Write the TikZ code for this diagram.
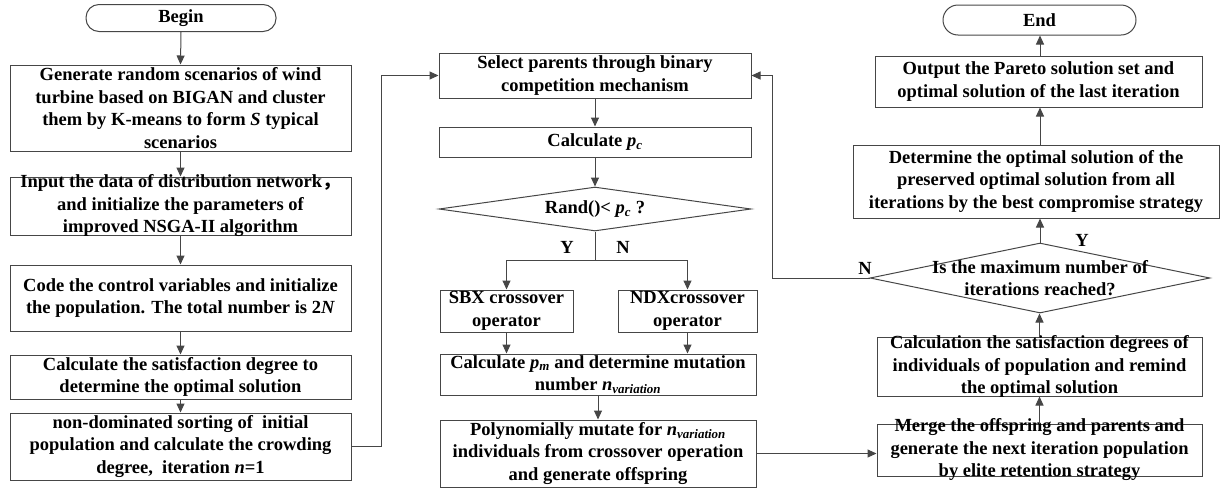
\documentclass[tikz,border=0pt]{standalone}
\usepackage{fontspec}
\setmainfont{Liberation Serif}
\newfontfamily\cjkf{Noto Sans CJK SC}
\usetikzlibrary{arrows.meta,shapes.geometric}
\definecolor{lc}{RGB}{70,70,70}
\begin{document}
\begin{tikzpicture}[x=1pt,y=-1pt,
  box/.style={draw=lc,line width=1pt,rectangle,inner sep=0pt},
  term/.style={box,rounded corners=13pt},
  dshape/.style={draw=lc,line width=1pt,diamond,inner sep=0pt},
  txt/.style={font=\fontsize{18.5}{22.5}\selectfont\bfseries,align=center,inner sep=0pt,text=black},
  arr/.style={draw=lc,line width=1pt,-{Triangle[length=9pt,width=8pt]}},
  ln/.style={draw=lc,line width=1pt}]
\useasboundingbox (0,0) rectangle (1220,488);
% left column
\node[term,minimum width=190pt,minimum height=27pt] (begin) at (181,18) {};
\node[txt] (tbegin) at (begin.center) {Begin};
\node[box,minimum width=341pt,minimum height=86pt] (b1) at (180.5,108) {};
\node[txt] (tb1) at (b1.center) {Generate random scenarios of wind\\turbine based on BIGAN and cluster\\them by K-means to form \textit{S} typical\\scenarios};
\node[box,minimum width=341pt,minimum height=58pt] (b2) at (180.5,206) {};
\node[txt] (tb2) at (b2.center) {Input the data of distribution network{\cjkf ，}\\and initialize the parameters of\\improved NSGA-II algorithm};
\node[box,minimum width=341pt,minimum height=66pt] (b3) at (180.5,298) {};
\node[txt] (tb3) at (b3.center) {Code the control variables and initialize\\the population. The total number is 2\textit{N}};
\node[box,minimum width=341pt,minimum height=44pt] (b4) at (180.5,377) {};
\node[txt] (tb4) at (b4.center) {Calculate the satisfaction degree to\\determine the optimal solution};
\node[box,minimum width=341pt,minimum height=67pt] (b5) at (180.5,446.5) {};
\node[txt] (tb5) at (b5.center) {non-dominated sorting of\ \ initial\\population and calculate the crowding\\degree,\ \ iteration \textit{n}=1};
% middle column
\node[box,minimum width=312pt,minimum height=45pt] (sel) at (595,75.5) {};
\node[txt] (tsel) at (sel.center) {Select parents through binary\\competition mechanism};
\node[box,minimum width=312pt,minimum height=30pt] (calc) at (595,142) {};
\node[txt] (tcalc) at (calc.center) {Calculate \textit{p}\textsubscript{\textit{c}}};
\node[dshape,minimum width=312pt,minimum height=44pt] (d1) at (595,209) {};
\node[txt] (td1) at (d1.center) {Rand()<\ \textit{p}\textsubscript{\textit{c}} ?};
\node[box,minimum width=133pt,minimum height=42pt] (sbx) at (506.5,311) {};
\node[txt] (tsbx) at (sbx.center) {SBX crossover\\operator};
\node[box,minimum width=139pt,minimum height=42pt] (ndx) at (687.5,311) {};
\node[txt] (tndx) at (ndx.center) {NDXcrossover\\operator};
\node[box,minimum width=316pt,minimum height=41pt] (pm) at (598,374.5) {};
\node[txt] (tpm) at (pm.center) {Calculate \textit{p}\textsubscript{\textit{m}} and determine mutation\\number \textit{n}\textsubscript{\textit{variation}}};
\node[box,minimum width=316pt,minimum height=67pt] (poly) at (598,453.5) {};
\node[txt] (tpoly) at (poly.center) {Polynomially mutate for \textit{n}\textsubscript{\textit{variation}}\\individuals from crossover operation\\and generate offspring};
% right column
\node[term,rounded corners=15pt,minimum width=193pt,minimum height=30pt] (end) at (1039.5,20) {};
\node[txt] (tend) at (end.center) {End};
\node[box,minimum width=327pt,minimum height=51pt] (out) at (1038.5,81.5) {};
\node[txt] (tout) at (out.center) {Output the Pareto solution set and\\optimal solution of the last iteration};
\node[box,minimum width=366pt,minimum height=73pt] (det) at (1036,181.5) {};
\node[txt] (tdet) at (det.center) {Determine the optimal solution of the\\preserved optimal solution from all\\iterations by the best compromise strategy};
\node[dshape,minimum width=340pt,minimum height=70pt] (d2) at (1040,278) {};
\node[txt] (td2) at (d2.center) {Is the maximum number of\\iterations reached?};
\node[box,minimum width=325pt,minimum height=59pt] (calc2) at (1039.5,366.5) {};
\node[txt] (tcalc2) at (calc2.center) {Calculation the satisfaction degrees of\\individuals of population and remind\\the optimal solution};
\node[box,minimum width=325pt,minimum height=52pt] (merge) at (1039.5,450) {};
\node[txt] (tmerge) at (merge.center) {Merge the offspring and parents and\\generate the next iteration population\\by elite retention strategy};
% connectors left
\draw[arr] (begin.south) -- (b1.north);
\draw[arr] (b1.south) -- (b2.north);
\draw[arr] (b2.south) -- (b3.north);
\draw[arr] (b3.south) -- (b4.north);
\draw[arr] (b4.south) -- (b5.north);
\draw[arr] (b5.east) -- ++(30,0) |- (sel.west);
% middle
\draw[arr] (sel.south) -- (calc.north);
\draw[arr] (calc.south) -- (d1.north);
\coordinate (j) at (595,260);
\draw[ln] (d1.south) -- (j);
\draw[arr] (j) -| (sbx.north);
\draw[arr] (j) -| (ndx.north);
\node[txt] (ly) at (567,247) {Y};
\node[txt] (ln1) at (623,247) {N};
\draw[arr] (sbx.south) -- (sbx.south |- pm.north);
\draw[arr] (ndx.south) -- (ndx.south |- pm.north);
\draw[arr] (pm.south) -- (poly.north);
\draw[arr] (poly.east) -- (poly.east -| merge.west);
% right
\draw[arr] (merge.north) -- (calc2.south);
\draw[arr] (calc2.north) -- (calc2.north |- d2.south);
\draw[arr] (d2.north) -- (d2.north |- det.south);
\draw[arr] (d2.north |- det.north) -- (d2.north |- out.south);
\draw[arr] (d2.north |- out.north) -- (d2.north |- end.south);
\node[txt] (ly2) at (1082,240) {Y};
\node[txt] (ln2) at (865,268) {N};
\draw[arr] (d2.west) -- ++(-97,0) |- (sel.east);
\end{tikzpicture}
\end{document}
